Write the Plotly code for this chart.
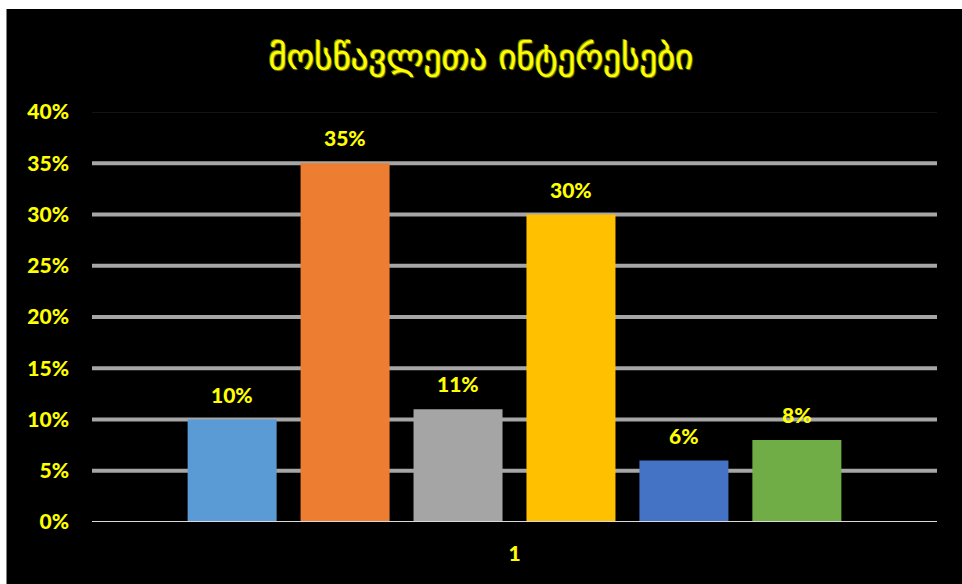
import plotly.graph_objects as go

# Chart data
categories = ["1"]
series_values = [0.10, 0.35, 0.11, 0.30, 0.06, 0.08]
series_colors = ["#5B9BD5", "#ED7D31", "#A5A5A5", "#FFC000", "#4472C4", "#70AD47"]
y_ticks = [0, 0.05, 0.10, 0.15, 0.20, 0.25, 0.30, 0.35, 0.40]
y_tick_labels = ["0%", "5%", "10%", "15%", "20%", "25%", "30%", "35%", "40%"]
title_text = "მოსწავლეთა ინტერესები"

YELLOW = "#FFFF00"
LABEL_FONT = dict(family="Lato, 'Open Sans', sans-serif", size=21, color=YELLOW, weight=900)

BARGAP = 0.198
BARGROUPGAP = 0.212

fig = go.Figure()
for i, v in enumerate(series_values):
    fig.add_trace(go.Bar(
        x=categories, y=[v], marker=dict(color=series_colors[i], line=dict(width=0)),
        showlegend=False, hoverinfo="skip",
    ))

# value labels above each bar (offset within the category group)
n = len(series_values)
slot = (1 - BARGAP) / n
for i, v in enumerate(series_values):
    fig.add_annotation(
        x=(i - (n - 1) / 2) * slot, y=v, xref="x", yref="y",
        text=f"{round(v * 100)}%", showarrow=False,
        yanchor="bottom", yshift=11, font=LABEL_FONT,
    )

# horizontal gridlines
shapes = []
for t in y_ticks[1:]:
    top = t == y_ticks[-1]
    shapes.append(dict(
        type="line", xref="paper", yref="y", x0=0, x1=1, y0=t, y1=t,
        line=dict(color="#262626" if top else "#A6A6A6", width=1 if top else 4),
        layer="below",
    ))
# baseline
shapes.append(dict(type="line", xref="paper", yref="y", x0=0, x1=1, y0=0, y1=0,
                   line=dict(color="#D9D9D9", width=2), layer="above"))

# white page strips along the top and left edges
W, H = 962, 584
ML, MR, MT, MB = 92, 25, 112, 62
pw, ph = W - ML - MR, H - MT - MB
def px_x(p): return (p - ML) / pw
def px_y(p): return 1 - (p - MT) / ph
shapes.append(dict(type="rect", xref="paper", yref="paper",
                   x0=px_x(0), x1=px_x(W), y0=px_y(0), y1=px_y(9),
                   fillcolor="white", line=dict(width=0), layer="above"))
shapes.append(dict(type="rect", xref="paper", yref="paper",
                   x0=px_x(0), x1=px_x(6), y0=px_y(0), y1=px_y(H),
                   fillcolor="white", line=dict(width=0), layer="above"))
shapes.append(dict(type="line", xref="paper", yref="paper",
                   x0=px_x(6.5), x1=px_x(6.5), y0=px_y(9), y1=px_y(H),
                   line=dict(color="#7F7F7F", width=1), layer="above"))

fig.update_layout(
    width=W, height=H,
    margin=dict(l=ML, r=MR, t=MT, b=MB),
    paper_bgcolor="black", plot_bgcolor="black",
    barmode="group", bargap=BARGAP, bargroupgap=BARGROUPGAP,
    title=dict(
        text=title_text, x=0.5, xanchor="center", y=1 - 57 / H, yanchor="middle",
        font=dict(family="DejaVu Sans", size=35, color=YELLOW, weight="normal",
                  shadow="1px 1px 1px #8a8a00, -1px -1px 0px #8a8a00"),
    ),
    shapes=shapes,
    xaxis=dict(
        type="category", showgrid=False, zeroline=False, showline=False,
        ticks="", tickfont=LABEL_FONT, ticklabelstandoff=17,
    ),
    yaxis=dict(
        range=[0, 0.40], tickvals=y_ticks, ticktext=y_tick_labels,
        showgrid=False, zeroline=False, showline=False, ticks="",
        tickfont=LABEL_FONT, ticklabelstandoff=22,
    ),
)

fig.write_html("out.html")
